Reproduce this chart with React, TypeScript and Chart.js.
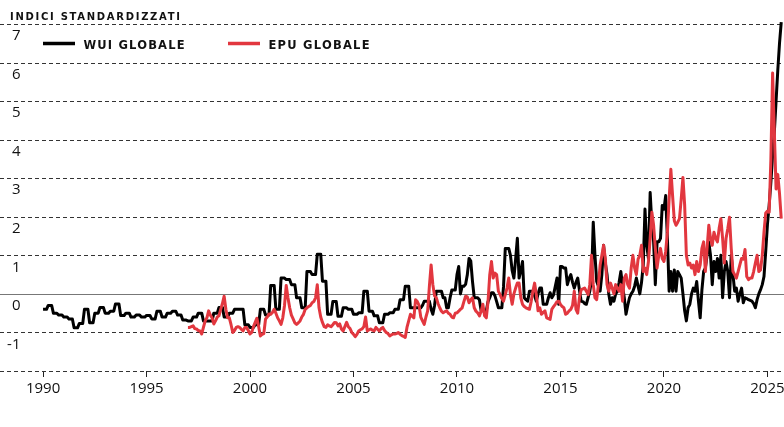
import React, { useEffect, useRef } from "react";
import { Chart, registerables } from "chart.js";

Chart.register(...registerables);

// ---------- text ----------
const TITLE = "INDICI STANDARDIZZATI";
const LABEL_WUI = "WUI GLOBALE";
const LABEL_EPU = "EPU GLOBALE";

// ---------- axes ----------
const X_MIN = 1987.92;
const X_MAX = 2025.8;
const Y_MIN = -2;
const Y_MAX = 7;
const xTickYears = [1990, 1995, 2000, 2005, 2010, 2015, 2020, 2025];
const yGridValues = [-2, -1, 0, 1, 2, 3, 4, 5, 6, 7];
const yTickLabels = [-1, 0, 1, 2, 3, 4, 5, 6, 7];

// ---------- WUI globale: quarterly 1990Q1–2007Q4 ----------
const wuiQuarterlyStart = 1990;
const wuiQuarterly = [
  -0.4, -0.3, -0.5, -0.55,
  -0.6, -0.65, -0.88, -0.77,
  -0.4, -0.75, -0.5, -0.35,
  -0.5, -0.45, -0.26, -0.56,
  -0.5, -0.6, -0.55, -0.6,
  -0.56, -0.65, -0.45, -0.6,
  -0.5, -0.45, -0.55, -0.68,
  -0.7, -0.6, -0.5, -0.7,
  -0.7, -0.5, -0.35, -0.6,
  -0.5, -0.4, -0.4, -0.8,
  -0.87, -0.8, -0.4, -0.55,
  0.22, -0.4, 0.41, 0.37,
  0.24, -0.1, -0.36, 0.58,
  0.5, 1.03, 0.33, -0.53,
  -0.2, -0.58, -0.36, -0.4,
  -0.53, -0.49, 0.07, -0.45,
  -0.57, -0.75, -0.53, -0.49,
  -0.4, -0.15, 0.2, -0.36,
];

// ---------- WUI globale: monthly 2008-01 – 2025-09 ----------
const wuiMonthlyStart = 2008;
const wuiMonthly = [
  -0.36, -0.36, -0.36, -0.36, -0.3, -0.19, -0.19, -0.19, -0.19, -0.4, -0.53, -0.3,
  0.07, 0.07, 0.07, 0.07, -0.1, -0.1, -0.36, -0.36, -0.1, 0.1, 0.1, 0.1,
  0.5, 0.71, 0.0, 0.2, 0.2, 0.25, 0.5, 0.92, 0.85, 0.32, -0.1, -0.1,
  -0.1, -0.15, -0.44, -0.44, -0.44, -0.44, -0.2, -0.1, 0.03, 0.03, -0.05, -0.2,
  -0.36, -0.36, -0.36, 0.2, 1.18, 1.18, 1.18, 1.0, 0.6, 0.41, 0.9, 1.44,
  0.41, 0.6, 0.84, -0.1, -0.15, -0.19, 0.07, 0.07, 0.07, -0.05, -0.19, 0.0,
  0.15, 0.15, -0.27, -0.27, -0.27, -0.1, 0.03, -0.1, -0.02, 0.2, 0.41, -0.27,
  0.71, 0.71, 0.67, 0.67, 0.24, 0.4, 0.5, 0.3, 0.15, 0.3, 0.41, 0.1,
  -0.19, -0.2, -0.25, -0.27, -0.1, 0.07, 0.37, 1.86, 1.0, 0.32, 0.2, 0.07,
  0.5, 1.26, 0.8, 0.5, 0.0, -0.27, -0.1, -0.19, 0.0, 0.07, 0.3, 0.58,
  0.2, -0.1, -0.53, -0.3, -0.1, 0.0, 0.07, 0.2, 0.41, 0.2, 0.0, 0.3,
  0.75, 2.2, 1.26, 0.92, 2.63, 1.8, 1.35, 0.24, 1.35, 1.35, 1.44, 2.29,
  2.2, 2.55, 1.44, 0.07, 0.58, 0.07, 0.62, 0.07, 0.58, 0.5, 0.41, 0.0,
  -0.44, -0.7, -0.36, -0.27, 0.0, 0.15, 0.07, 0.32, -0.19, -0.62, 0.1, 0.58,
  0.67, 1.0, 1.35, 1.0, 0.24, 0.84, 0.58, 0.92, 0.41, 1.0, -0.1, 0.58,
  0.84, 0.58, -0.1, 1.0, 0.5, 0.07, 0.15, -0.19, 0.0, 0.15, -0.23, -0.1,
  -0.12, -0.15, -0.17, -0.19, -0.25, -0.36, -0.15, 0.0, 0.11, 0.24, 0.45, 1.1,
  1.8, 2.3, 2.9, 3.6, 4.2, 5.0, 5.8, 6.5, 7.05,
];

// ---------- EPU globale: monthly 1997-01 – 2025-09 ----------
const epuMonthlyStart = 1997;
const epuMonthly = [
  -0.87, -0.87, -0.85, -0.83, -0.9, -0.91, -0.95, -0.96, -1.04, -0.87, -0.7, -0.62,
  -0.44, -0.55, -0.62, -0.78, -0.7, -0.6, -0.57, -0.4, -0.25, -0.06, -0.4, -0.62,
  -0.62, -0.8, -1.0, -0.95, -0.87, -0.85, -0.87, -0.92, -0.96, -0.87, -0.87, -0.95,
  -1.04, -1.0, -0.85, -0.74, -0.63, -0.85, -1.09, -1.05, -1.03, -0.65, -0.6, -0.52,
  -0.53, -0.48, -0.4, -0.5, -0.62, -0.7, -0.79, -0.62, -0.3, 0.22, -0.1, -0.36,
  -0.55, -0.65, -0.75, -0.79, -0.75, -0.7, -0.6, -0.53, -0.4, -0.36, -0.33, -0.3,
  -0.23, -0.2, -0.1, 0.24, -0.36, -0.6, -0.74, -0.85, -0.87, -0.8, -0.83, -0.85,
  -0.8, -0.74, -0.75, -0.83, -0.78, -0.91, -0.96, -0.85, -0.74, -0.85, -0.9, -1.0,
  -1.05, -1.11, -1.05, -0.96, -0.93, -0.91, -0.85, -0.6, -0.96, -0.93, -0.91, -0.94,
  -0.96, -0.87, -0.92, -0.96, -0.9, -0.87, -0.95, -1.0, -1.03, -1.09, -1.06, -1.04,
  -1.04, -1.03, -1.0, -1.05, -1.08, -1.1, -1.13, -0.87, -0.7, -0.53, -0.58, -0.62,
  -0.15, -0.2, -0.3, -0.6, -0.7, -0.79, -0.6, -0.44, 0.2, 0.75, 0.24, -0.05,
  -0.1, -0.25, -0.36, -0.45, -0.49, -0.46, -0.44, -0.5, -0.53, -0.6, -0.62, -0.5,
  -0.49, -0.45, -0.4, -0.36, -0.2, -0.06, -0.08, -0.23, -0.15, -0.1, -0.36, -0.45,
  -0.49, -0.57, -0.45, -0.27, -0.57, -0.62, -0.2, 0.5, 0.84, 0.41, 0.54, 0.5,
  0.07, -0.02, -0.12, -0.19, -0.02, 0.15, 0.41, -0.02, -0.27, 0.0, 0.15, 0.28,
  0.28, -0.1, -0.27, -0.33, -0.36, -0.38, -0.4, -0.2, 0.07, 0.28, -0.02, -0.44,
  -0.36, -0.53, -0.48, -0.44, -0.62, -0.64, -0.66, -0.4, -0.33, -0.27, -0.2, -0.19,
  -0.27, -0.33, -0.36, -0.53, -0.5, -0.44, -0.4, -0.3, 0.07, -0.4, -0.5, -0.1,
  0.11, 0.13, 0.15, 0.07, -0.02, 0.24, 1.0, 0.24, -0.1, -0.15, 0.24, 0.75,
  1.0, 1.26, 0.92, 0.24, 0.07, 0.28, 0.15, 0.0, 0.24, 0.15, 0.07, 0.24,
  -0.19, 0.41, 0.5, 0.24, 0.15, 0.67, 1.0, 0.67, 0.5, 0.9, 1.0, 1.26,
  0.58, 0.67, 0.5, 0.84, 1.44, 2.12, 1.78, 1.18, 0.67, 1.0, 1.18, 0.92,
  0.84, 1.1, 1.6, 2.46, 3.23, 2.55, 1.9, 1.78, 1.86, 1.95, 2.46, 3.02,
  2.3, 1.0, 0.75, 0.8, 0.67, 0.75, 0.5, 0.84, 0.58, 0.75, 1.18, 1.35,
  0.58, 1.18, 1.78, 1.44, 1.26, 1.6, 1.44, 1.35, 1.7, 1.95, 1.44, 0.8,
  1.44, 1.69, 1.99, 1.18, 0.58, 0.5, 0.41, 0.58, 0.75, 0.92, 0.9, 1.15,
  0.45, 0.37, 0.41, 0.41, 0.58, 0.8, 1.0, 0.58, 0.62, 1.0, 1.6, 2.1,
  2.15, 2.12, 3.5, 5.73, 4.19, 2.72, 3.1, 2.6, 1.95,
];

// ---------- styles ----------
const RED = "#e2373f";
const BLACK = "#000000";
const TEXT = "#111111";
const FONT = "'Open Sans', 'Noto Sans', sans-serif";
const HEAD_FONT = "'DejaVu Sans', 'Open Sans', sans-serif";

function quarterlyAsMonths(startYear: number, values: number[]) {
  const pts: { x: number; y: number }[] = [];
  values.forEach((v, q) => {
    for (let k = 0; k < 3; k++) pts.push({ x: startYear + (3 * q + k) / 12, y: v });
  });
  return pts;
}
function monthly(startYear: number, values: number[]) {
  return values.map((v, i) => ({ x: startYear + i / 12, y: v }));
}

function fitText(ctx: CanvasRenderingContext2D, text: string, x: number, y: number, width: number) {
  (ctx as any).letterSpacing = "0px";
  const w = ctx.measureText(text).width;
  const sp = (width - w) / Math.max(1, text.length - 1);
  (ctx as any).letterSpacing = `${sp}px`;
  ctx.fillText(text, x, y);
  (ctx as any).letterSpacing = "0px";
}

// y grid lines (full width) + y labels under each line
const yGrid = {
  id: "yGrid",
  beforeDatasetsDraw(chart: any) {
    const ctx: CanvasRenderingContext2D = chart.ctx;
    const ys = chart.scales.y;
    const W = 784;
    ctx.save();
    ctx.lineWidth = 1;
    yGridValues.forEach((v) => {
      const py = Math.round(ys.getPixelForValue(v)) + 0.5;
      ctx.beginPath();
      if (v === 0) {
        ctx.setLineDash([]);
        ctx.strokeStyle = "#777";
      } else {
        ctx.setLineDash([4, 3]);
        ctx.strokeStyle = "#333";
      }
      ctx.moveTo(0, py);
      ctx.lineTo(W, py);
      ctx.stroke();
    });
    ctx.setLineDash([]);
    ctx.fillStyle = TEXT;
    ctx.font = `400 15px ${FONT}`;
    ctx.textAlign = "right";
    ctx.textBaseline = "middle";
    yTickLabels.forEach((v) => {
      const py = ys.getPixelForValue(v);
      ctx.fillText(String(v), 20.5, py + 12);
    });
    ctx.restore();
  },
};

const overlay = {
  id: "overlay",
  afterDraw(chart: any) {
    const ctx: CanvasRenderingContext2D = chart.ctx;
    ctx.save();
    ctx.textBaseline = "alphabetic";
    ctx.textAlign = "left";
    ctx.fillStyle = TEXT;
    ctx.font = `700 10px ${HEAD_FONT}`;
    fitText(ctx, TITLE, 10, 19.5, 170);

    // legend
    ctx.lineWidth = 3.5;
    ctx.lineCap = "butt";
    ctx.strokeStyle = BLACK;
    ctx.beginPath();
    ctx.moveTo(43, 43.5);
    ctx.lineTo(75, 43.5);
    ctx.stroke();
    ctx.strokeStyle = RED;
    ctx.beginPath();
    ctx.moveTo(228, 43.5);
    ctx.lineTo(260, 43.5);
    ctx.stroke();

    ctx.font = `700 11.5px ${HEAD_FONT}`;
    ctx.fillStyle = TEXT;
    fitText(ctx, LABEL_WUI, 83.5, 48.5, 101);
    fitText(ctx, LABEL_EPU, 268.5, 48.5, 101);
    ctx.restore();
  },
};

export default function App() {
  const ref = useRef<HTMLCanvasElement>(null);
  useEffect(() => {
    const canvas = ref.current!;
    const wuiPts = [...quarterlyAsMonths(wuiQuarterlyStart, wuiQuarterly), ...monthly(wuiMonthlyStart, wuiMonthly)];
    const epuPts = monthly(epuMonthlyStart, epuMonthly);
    const chart = new Chart(canvas, {
      type: "line",
      data: {
        datasets: [
          {
            label: LABEL_EPU,
            data: epuPts,
            borderColor: RED,
            borderWidth: 3,
            pointRadius: 0,
            tension: 0,
            borderJoinStyle: "round",
            order: 0,
            clip: false,
          },
          {
            label: LABEL_WUI,
            data: wuiPts,
            borderColor: BLACK,
            borderWidth: 3,
            pointRadius: 0,
            tension: 0,
            borderJoinStyle: "round",
            order: 1,
            clip: false,
          },
        ],
      },
      options: {
        responsive: false,
        animation: false,
        devicePixelRatio: 1,
        events: [],
        layout: { padding: { top: 24, bottom: 26, left: 0, right: 16 } },
        plugins: { legend: { display: false }, tooltip: { enabled: false }, title: { display: false } },
        scales: {
          x: {
            type: "linear",
            min: X_MIN,
            max: X_MAX,
            position: "bottom",
            afterBuildTicks: (s: any) => {
              s.ticks = xTickYears.map((v) => ({ value: v }));
            },
            ticks: {
              callback: (v: any) => String(v),
              font: { family: FONT, size: 15 },
              color: TEXT,
              padding: 3,
              maxRotation: 0,
              autoSkip: false,
            },
            grid: { drawOnChartArea: false, drawTicks: true, tickLength: 6, color: "#222", lineWidth: 1 },
            border: { display: false },
          },
          y: {
            type: "linear",
            min: Y_MIN,
            max: Y_MAX,
            display: false,
          },
        },
      },
      plugins: [yGrid, overlay],
    } as any);
    return () => chart.destroy();
  }, []);

  return (
    <div style={{ position: "absolute", left: 0, top: 0, width: 784, height: 427, overflow: "hidden", background: "#fff" }}>
      <canvas ref={ref} width={800} height={427} style={{ display: "block", width: 800, height: 427 }} />
    </div>
  );
}
